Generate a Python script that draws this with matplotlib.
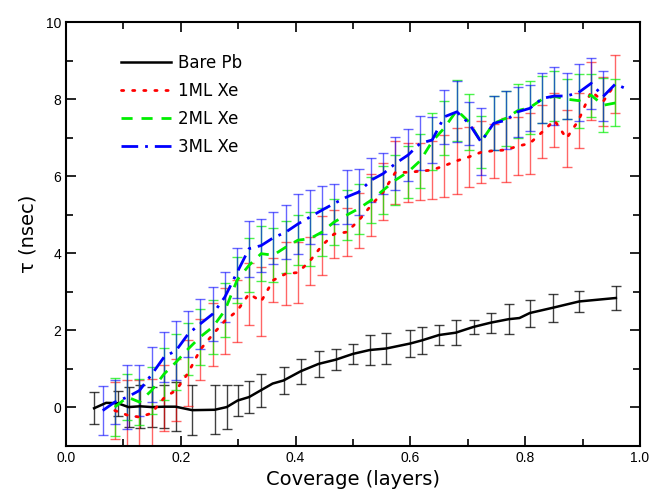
import numpy as np
import matplotlib
matplotlib.use("Agg")
import matplotlib.pyplot as plt
from matplotlib.ticker import MultipleLocator

nan = np.nan

# Bare Pb lifetime vs coverage
bare_cov = [0.049, 0.070, 0.090, 0.109, 0.129, 0.150, 0.171, 0.191, 0.220, 0.259,
            0.280, 0.299, 0.319, 0.340, 0.360, 0.379, 0.409, 0.440, 0.470, 0.500,
            0.529, 0.558, 0.600, 0.620, 0.650, 0.679, 0.710, 0.740, 0.771, 0.790,
            0.808, 0.849, 0.894, 0.958]
bare_tau = [-0.02, 0.12, 0.11, 0.01, 0.03, 0.01, 0.02, 0.02, -0.07, -0.06,
            0.01, 0.18, 0.27, 0.45, 0.62, 0.70, 0.94, 1.13, 1.24, 1.39,
            1.49, 1.53, 1.66, 1.74, 1.88, 1.94, 2.09, 2.20, 2.29, 2.32,
            2.45, 2.59, 2.75, 2.84]
bare_err = [0.41, nan, 0.32, 0.52, 0.55, 0.51, 0.56, 0.64, 0.64, 0.63,
            0.56, 0.41, 0.41, 0.43, nan, 0.35, 0.32, 0.33, 0.27, 0.26,
            0.39, 0.40, 0.36, 0.36, 0.27, 0.32, 0.18, 0.26, 0.39, nan,
            0.35, 0.36, 0.28, 0.30]

# Xe covered samples
xe_cov = [0.064, 0.085, 0.107, 0.128, 0.149, 0.171, 0.192, 0.213, 0.234, 0.256,
          0.277, 0.298, 0.319, 0.340, 0.361, 0.383, 0.404, 0.425, 0.446, 0.467,
          0.489, 0.510, 0.532, 0.553, 0.574, 0.596, 0.617, 0.638, 0.659, 0.681,
          0.702, 0.723, 0.745, 0.766, 0.787, 0.808, 0.830, 0.851, 0.872, 0.893,
          0.915, 0.936, 0.957, 0.979]

xe1_tau = [-0.08, -0.20, -0.25, -0.15, 0.25, 0.45, 0.90, 1.50, 1.90,
           2.25, 2.50, 2.95, 2.75, 3.30, 3.47, 3.50, 3.80, 4.20, 4.50,
           4.55, 4.85, 5.25, 5.60, 6.10, 6.10, 6.13, 6.16, 6.27, 6.40,
           6.50, 6.62, 6.66, 6.68, 6.78, 6.85, 7.15, 7.45, 6.98, 7.45,
           8.20, 7.94, 8.40]
xe1_err = [0.74, 0.90, 0.95, 0.90, 0.85, 0.80, 0.85, 0.80, 0.82,
           0.85, 0.80, 0.80, 0.90, 0.57, 0.82, 0.80, 0.62, 0.76, 0.63,
           0.63, 0.71, 0.80, 0.74, 0.82, 0.76, 0.74, 0.75, 0.80, 0.85,
           0.78, 0.80, 0.70, 0.82, 0.75, 0.80, 0.69, 0.70, 0.75, 0.72,
           0.75, 0.64, 0.75]

xe2_tau = [0.01, 0.27, 0.14, 0.44, 0.87, 1.18, 1.52, 1.83, 2.09,
           2.52, 3.30, 3.69, 3.99, 3.95, 4.16, 4.34, 4.38, 4.55, 4.81,
           4.99, 5.16, 5.38, 5.64, 5.90, 6.11, 6.40, 6.90, 7.25, 7.71,
           7.41, 6.89, 7.37, 7.50, 7.70, 7.78, 8.00, 8.07, 8.00, 7.96,
           8.10, 7.84, 7.90]
xe2_err = [0.75, 0.60, 0.60, 0.62, 0.68, 0.72, 0.67, 0.72, 0.70,
           0.70, 0.60, 0.70, 0.72, 0.70, 0.68, 0.65, 0.70, 0.62, 0.60,
           0.65, 0.65, 0.60, 0.62, 0.65, 0.68, 0.70, 0.75, 0.70, 0.79,
           0.72, 0.68, 0.70, 0.72, 0.70, 0.68, 0.61, 0.65, 0.51, 0.70,
           0.56, 0.70, 0.61]

xe3_tau = [-0.08, 0.14, 0.27, 0.44, 0.85, 1.31, 1.48, 1.91, 2.17, 2.43,
           2.87, 3.50, 4.12, 4.20, 4.40, 4.55, 4.76, 4.94, 5.12, 5.29,
           5.46, 5.59, 5.90, 6.07, 6.33, 6.55, 6.85, 6.94, 7.54, 7.67,
           7.37, 6.89, 7.37, 7.45, 7.67, 7.76, 8.02, 8.08, 8.08, 8.17,
           8.41, 8.07, 8.39, 8.25]
xe3_err = [0.64, 0.58, 0.82, 0.65, 0.71, 0.64, 0.76, 0.60, 0.65, 0.70,
           0.65, 0.65, 0.73, 0.69, 0.68, 0.71, 0.77, 0.70, 0.63, 0.52,
           0.69, 0.59, 0.57, 0.54, 0.69, 0.68, 0.70, 0.60, 0.70, 0.79,
           0.56, 0.87, 0.70, 0.75, 0.65, 0.60, 0.65, 0.75, 0.60, 0.75,
           0.66, 0.65, nan, nan]

fig = plt.figure(figsize=(6.5, 4.98), dpi=100)
ax = fig.add_axes([0.1015, 0.1044, 0.8831, 0.8514])

# error bars first, lines on top
bar_kw = dict(fmt="none", elinewidth=1.0, capsize=3.3, capthick=1.0)
ax.errorbar(bare_cov, bare_tau, yerr=bare_err, ecolor="black", alpha=0.75, **bar_kw)
ax.errorbar(xe_cov[1:43], xe1_tau, yerr=xe1_err, ecolor="red", alpha=0.6, **bar_kw)
ax.errorbar(xe_cov[1:43], xe2_tau, yerr=xe2_err, ecolor="#00ee00", alpha=0.7, **bar_kw)
ax.errorbar(xe_cov, xe3_tau, yerr=xe3_err, ecolor="blue", alpha=0.6, **bar_kw)

ax.plot(bare_cov, bare_tau, color="black", lw=1.8, label="Bare Pb")
ax.plot(xe_cov[1:43], xe1_tau, color="red", lw=2.0, ls=(0, (0.8, 3.2)),
        dash_capstyle="round", label="1ML Xe")
ax.plot(xe_cov[1:43], xe2_tau, color="#00ee00", lw=2.0, ls=(0, (4, 3.2)), label="2ML Xe")
ax.plot(xe_cov, xe3_tau, color="blue", lw=2.0, ls=(0, (6, 2.5, 1, 2.5)), label="3ML Xe")

ax.set_xlim(0.0, 1.0)
ax.set_ylim(-1, 10)
ax.xaxis.set_major_locator(MultipleLocator(0.2))
ax.xaxis.set_minor_locator(MultipleLocator(0.1))
ax.yaxis.set_major_locator(MultipleLocator(2))
ax.yaxis.set_minor_locator(MultipleLocator(1))
ax.tick_params(which="both", direction="in", top=True, right=True, width=1.2)
ax.tick_params(which="major", length=7, labelsize=10)
ax.tick_params(which="minor", length=5)
for lab in ax.get_xticklabels() + ax.get_yticklabels():
    lab.set_family("Liberation Sans")
for s in ax.spines.values():
    s.set_linewidth(1.5)

ax.set_xlabel("Coverage (layers)", fontsize=14, labelpad=4)
ax.set_ylabel("\u03c4 (nsec)", fontsize=14, labelpad=6)

ax.legend(loc="upper left", bbox_to_anchor=(0.07, 0.96), frameon=False,
          fontsize=12, handlelength=3.0, handletextpad=0.4, labelspacing=0.6)

fig.savefig("out.png", dpi=100)
